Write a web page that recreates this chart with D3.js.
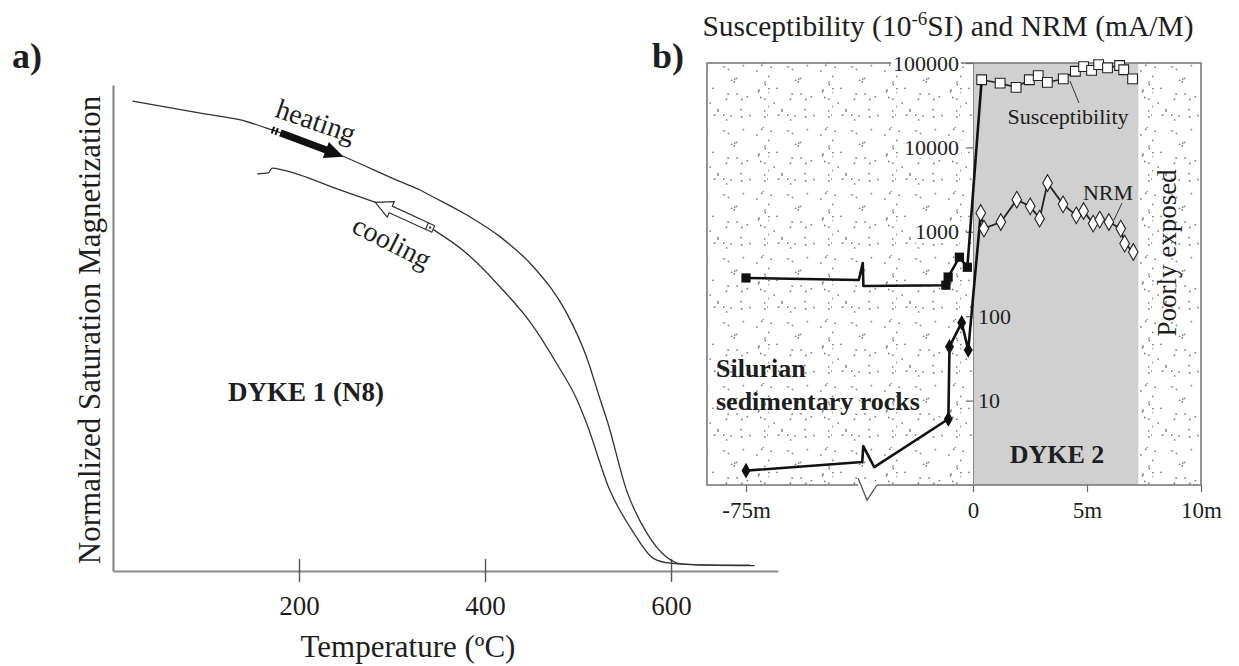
<!DOCTYPE html>
<html><head><meta charset="utf-8">
<script src="https://cdn.jsdelivr.net/npm/d3@7"></script>
<style>
body{margin:0;background:#fff}
svg{display:block}
text{font-family:"Liberation Serif","Times New Roman",serif;fill:#1e1e1e}
</style>
</head><body>
<svg id="c" width="1239" height="666"></svg>
<script>
// ---------- Panel a data: thermomagnetic curves ----------
const heatT = [21, 94, 137, 172, 244, 309, 330, 344, 380, 416, 452, 488, 509, 524, 532, 552, 574, 595, 613, 650, 685];
const heatM = [0.967, 0.942, 0.928, 0.907, 0.856, 0.801, 0.784, 0.770, 0.733, 0.688, 0.626, 0.530, 0.441, 0.352, 0.305, 0.167, 0.078, 0.029, 0.014, 0.012, 0.012];
const coolT = [155, 167, 171, 183, 244, 280, 309, 344, 380, 416, 452, 477, 499, 509, 534, 560, 581, 599, 640, 690];
const coolM = [0.817, 0.819, 0.829, 0.825, 0.784, 0.760, 0.740, 0.703, 0.654, 0.585, 0.503, 0.427, 0.352, 0.305, 0.167, 0.078, 0.026, 0.016, 0.012, 0.011];
const tempTicks = [200, 400, 600];

// ---------- Panel b data: profile across DYKE 2 ----------
const susSedX = [-75, -1.2, -1.1, -0.6, -0.25];
const susSedV = [284, 233, 291, 500, 380];
const susDykeX = [0.38, 1.19, 1.89, 2.47, 2.86, 3.26, 3.96, 4.49, 4.85, 5.20, 5.51, 5.90, 6.43, 6.61, 7.00];
const susDykeV = [63300, 57700, 51500, 63300, 70900, 59000, 64800, 79900, 90600, 81800, 95800, 87600, 93500, 83200, 64800];
const nrmSedX = [-75, -1.09, -1.04, -0.50, -0.21];
const nrmSedV = [1.48, 6.05, 43.5, 83.8, 39.8];
const nrmDykeX = [0.34, 0.48, 1.22, 1.92, 2.51, 2.92, 3.27, 3.95, 4.53, 4.85, 5.27, 5.56, 5.96, 6.48, 6.65, 7.03];
const nrmDykeV = [1668, 1091, 1306, 2404, 2003, 1432, 3782, 2115, 1566, 1762, 1250, 1394, 1306, 1091, 725, 577];
const logTicks = [10, 100, 1000, 10000, 100000];
const distTicks = [-75, 0, 5, 10];
const distLabels = ["-75m", "0", "5m", "10m"];
const dykeWidth = 7.25;
// axis break (left sediment part compressed)
const susBreak = {left: [-5.75, 268], right: [-4.85, 228]};
const nrmBreak = {left: [-4.9, 1.87], right: [-4.37, 1.63]};

const W = 1239, H = 666;
const svg = d3.select('#c');
svg.append('rect').attr('width', W).attr('height', H).attr('fill', '#fff');

// ================= PANEL A =================
const xA = d3.scaleLinear().domain([0, 715]).range([113, 778]);
const yA = d3.scaleLinear().domain([0, 1]).range([571, 85]);
const gA = svg.append('g');

const axB = gA.append('g').attr('transform', `translate(0,${yA(0)})`)
  .call(d3.axisBottom(xA).tickValues(tempTicks).tickSize(11).tickSizeOuter(0).tickPadding(14));
axB.select('.domain').attr('stroke', '#8a8a8a').attr('stroke-width', 2.2);
axB.selectAll('.tick line').attr('y1', -12).attr('stroke', '#555').attr('stroke-width', 1.4);
axB.selectAll('.tick text').attr('font-size', 27).attr('font-family', '"Liberation Serif",serif').attr('fill', '#1e1e1e');

const axL = gA.append('g').attr('transform', `translate(${xA(0)},0)`)
  .call(d3.axisLeft(yA).tickValues([]).tickSizeOuter(0));
axL.select('.domain').attr('stroke', '#8a8a8a').attr('stroke-width', 2.2);

const lineA = d3.line().x(d => xA(d[0])).y(d => yA(d[1])).curve(d3.curveMonotoneX);
gA.append('path').datum(heatT.map((t, i) => [t, heatM[i]])).attr('d', lineA)
  .attr('fill', 'none').attr('stroke', '#333').attr('stroke-width', 1.3);
gA.append('path').datum(coolT.map((t, i) => [t, coolM[i]])).attr('d', lineA)
  .attr('fill', 'none').attr('stroke', '#333').attr('stroke-width', 1.3);

const heatAt = d3.scaleLinear().domain(heatT).range(heatM);
const coolAt = d3.scaleLinear().domain(coolT).range(coolM);
function arrowPts(f, t0, t1, w, h, L) {
  const p0 = [xA(t0), yA(f(t0))], p1 = [xA(t1), yA(f(t1))];
  const dx = p1[0] - p0[0], dy = p1[1] - p0[1], len = Math.hypot(dx, dy);
  const u = [dx / len, dy / len], n = [-u[1], u[0]];
  const b = [p1[0] - u[0] * L, p1[1] - u[1] * L];
  const P = (p, s, k) => [p[0] + n[0] * s * k, p[1] + n[1] * s * k];
  return {pts: [P(p0, w, 1), P(b, w, 1), P(b, h, 1), p1, P(b, h, -1), P(b, w, -1), P(p0, w, -1)], p0, u, n};
}
// heating arrow (filled)
const ha = arrowPts(heatAt, 180, 248, 3.6, 8.5, 19);
gA.append('polygon').attr('points', ha.pts.map(p => p.join(',')).join(' ')).attr('fill', '#111');
[-4, -8].forEach(o => {
  const c = [ha.p0[0] + ha.u[0] * o, ha.p0[1] + ha.u[1] * o];
  gA.append('line').attr('x1', c[0] + ha.n[0] * 3.6).attr('y1', c[1] + ha.n[1] * 3.6)
    .attr('x2', c[0] - ha.n[0] * 3.6).attr('y2', c[1] - ha.n[1] * 3.6)
    .attr('stroke', '#111').attr('stroke-width', 2);
});
// cooling arrow (open)
const ca = arrowPts(coolAt, 338, 282, 3.6, 8.5, 17);
gA.append('polygon').attr('points', ca.pts.map(p => p.join(',')).join(' '))
  .attr('fill', '#fff').attr('stroke', '#333').attr('stroke-width', 1.2);
{
  const c = [ca.p0[0] - ca.u[0] * 3, ca.p0[1] - ca.u[1] * 3];
  gA.append('rect').attr('x', c[0] - 3.5).attr('y', c[1] - 3.5).attr('width', 7).attr('height', 7)
    .attr('fill', '#fff').attr('stroke', '#444').attr('stroke-width', 1.2)
    .attr('transform', `rotate(${Math.atan2(ca.u[1], ca.u[0]) * 180 / Math.PI},${c[0]},${c[1]})`);
  gA.append('circle').attr('cx', c[0]).attr('cy', c[1]).attr('r', 1.2).attr('fill', '#444');
}

gA.append('text').attr('x', 316).attr('y', 121).attr('text-anchor', 'middle').attr('dominant-baseline', 'central')
  .attr('font-size', 28).attr('transform', 'rotate(19,316,121)').text('heating');
gA.append('text').attr('x', 392).attr('y', 242).attr('text-anchor', 'middle').attr('dominant-baseline', 'central')
  .attr('font-size', 28).attr('transform', 'rotate(27,392,242)').text('cooling');
gA.append('text').attr('x', 228).attr('y', 401).attr('font-size', 27).attr('font-weight', 'bold').text('DYKE 1 (N8)');
gA.append('text').attr('x', 408).attr('y', 657).attr('text-anchor', 'middle').attr('font-size', 31).text('Temperature (ºC)');
gA.append('text').attr('transform', 'translate(100,330) rotate(-90)').attr('text-anchor', 'middle')
  .attr('font-size', 31).text('Normalized Saturation Magnetization');
svg.append('text').attr('x', 12).attr('y', 68).attr('font-size', 36).attr('font-weight', 'bold').text('a)');
svg.append('text').attr('x', 652).attr('y', 68).attr('font-size', 36).attr('font-weight', 'bold').text('b)');

// ================= PANEL B =================
const xB = d3.scaleLinear().domain([-80, -75, -5, 0, 10]).range([707, 746, 860, 973, 1201]);
const yB = d3.scaleLog().domain([1, 100000]).range([485, 63]);
const gB = svg.append('g');

const defs = svg.append('defs');
const pat = defs.append('pattern').attr('id', 'stip').attr('patternUnits', 'userSpaceOnUse').attr('width', 64).attr('height', 64);
pat.append('rect').attr('width', 64).attr('height', 64).attr('fill', '#fff');
let seed = 11;
const rnd = () => { seed = (seed * 16807) % 2147483647; return seed / 2147483647; };
for (let i = 0; i < 40; i++) {
  pat.append('circle').attr('cx', rnd() * 64).attr('cy', rnd() * 64).attr('r', 0.9).attr('fill', '#7e7e7e');
}

const fx0 = xB(-80), fx1 = xB(10), fy0 = yB(100000), fy1 = yB(1);
gB.append('rect').attr('x', fx0).attr('y', fy0).attr('width', fx1 - fx0).attr('height', fy1 - fy0).attr('fill', 'url(#stip)');
gB.append('rect').attr('x', xB(0)).attr('y', fy0).attr('width', xB(dykeWidth) - xB(0)).attr('height', fy1 - fy0).attr('fill', '#d0d0d0');
gB.append('rect').attr('x', fx0).attr('y', fy0).attr('width', fx1 - fx0).attr('height', fy1 - fy0)
  .attr('fill', 'none').attr('stroke', '#7a7a7a').attr('stroke-width', 1.6);

// x axis
const axBx = gB.append('g').attr('transform', `translate(0,${fy1})`)
  .call(d3.axisBottom(xB).tickValues(distTicks).tickSize(7).tickPadding(10).tickFormat((d, i) => distLabels[i]));
axBx.select('.domain').remove();
axBx.selectAll('.tick line').attr('stroke', '#666').attr('stroke-width', 1.2);
axBx.selectAll('.tick text').attr('font-size', 23).attr('font-family', '"Liberation Serif",serif').attr('fill', '#1e1e1e');
// axis break symbol
const bxp = xB(-5);
gB.append('rect').attr('x', bxp - 2).attr('y', fy1 - 2).attr('width', 19).attr('height', 4).attr('fill', '#fff');
gB.append('path').attr('d', `M${bxp - 2},${fy1 - 7} L${bxp + 7},${fy1 + 15} L${bxp + 17},${fy1}`)
  .attr('fill', 'none').attr('stroke', '#555').attr('stroke-width', 1.3);

// y axis at 0 m
const axBy = gB.append('g').attr('transform', `translate(${xB(0)},0)`)
  .call(d3.axisLeft(yB).tickValues(logTicks).tickSize(7).tickFormat(''));
axBy.select('.domain').attr('stroke', '#888').attr('stroke-width', 1);
axBy.selectAll('.tick line').attr('stroke', '#666').attr('stroke-width', 1.2);
logTicks.forEach(v => {
  const lbl = String(v);
  if (v >= 1000) {
    const w = lbl.length * 11;
    gB.append('rect').attr('x', xB(0) - 14 - w - 2).attr('y', yB(v) - 11).attr('width', w + 4).attr('height', 22).attr('fill', '#fff');
    gB.append('text').attr('x', xB(0) - 14).attr('y', yB(v)).attr('text-anchor', 'end').attr('dominant-baseline', 'central')
      .attr('font-size', 22).text(lbl);
  } else {
    gB.append('text').attr('x', xB(0) + 5).attr('y', yB(v)).attr('dominant-baseline', 'central')
      .attr('font-size', 22).text(lbl);
  }
});

// series lines
function sedPath(xs, vs, brk, dx0, dy0) {
  const pts = [[xB(xs[0]), yB(vs[0])]];
  const l = [xB(brk.left[0]), yB(brk.left[1])];
  pts.push(l, [l[0] + dx0, l[1] - dy0], [xB(brk.right[0]), yB(brk.right[1])]);
  for (let i = 1; i < xs.length; i++) pts.push([xB(xs[i]), yB(vs[i])]);
  return pts;
}
const lineP = d3.line();
const susSed = sedPath(susSedX, susSedV, susBreak, 4, 17);
susSed.push([xB(susDykeX[0]), yB(susDykeV[0])]);
const nrmSed = sedPath(nrmSedX, nrmSedV, nrmBreak, 1, 16);
nrmSed.push([xB(nrmDykeX[0]), yB(nrmDykeV[0])]);
gB.append('path').attr('d', lineP(susSed)).attr('fill', 'none').attr('stroke', '#111').attr('stroke-width', 2.6).attr('stroke-linejoin', 'round');
gB.append('path').attr('d', lineP(nrmSed)).attr('fill', 'none').attr('stroke', '#111').attr('stroke-width', 2.6).attr('stroke-linejoin', 'round');
gB.append('path').attr('d', lineP(susDykeX.map((x, i) => [xB(x), yB(susDykeV[i])]))).attr('fill', 'none').attr('stroke', '#222').attr('stroke-width', 1.5);
gB.append('path').attr('d', lineP(nrmDykeX.map((x, i) => [xB(x), yB(nrmDykeV[i])]))).attr('fill', 'none').attr('stroke', '#222').attr('stroke-width', 1.8);

// markers
const sq = d3.symbol().type(d3.symbolSquare);
const di = d3.symbol().type(d3.symbolDiamond);
susSedX.forEach((x, i) => gB.append('path').attr('d', sq.size(85)()).attr('transform', `translate(${xB(x)},${yB(susSedV[i])})`).attr('fill', '#111'));
nrmSedX.forEach((x, i) => gB.append('path').attr('d', di.size(70)()).attr('transform', `translate(${xB(x)},${yB(nrmSedV[i])})`).attr('fill', '#111'));
susDykeX.forEach((x, i) => gB.append('path').attr('d', sq.size(95)()).attr('transform', `translate(${xB(x)},${yB(susDykeV[i])})`)
  .attr('fill', '#fff').attr('stroke', '#222').attr('stroke-width', 1.1));
nrmDykeX.forEach((x, i) => gB.append('path').attr('d', di.size(80)()).attr('transform', `translate(${xB(x)},${yB(nrmDykeV[i])})`)
  .attr('fill', '#fff').attr('stroke', '#222').attr('stroke-width', 1.1));

// annotations
gB.append('line').attr('x1', 1070).attr('y1', 81).attr('x2', 1079).attr('y2', 103).attr('stroke', '#333').attr('stroke-width', 1);
gB.append('text').attr('x', 1068).attr('y', 116).attr('text-anchor', 'middle').attr('dominant-baseline', 'central').attr('font-size', 22).text('Susceptibility');
gB.append('line').attr('x1', 1122).attr('y1', 203).attr('x2', 1114).attr('y2', 220).attr('stroke', '#333').attr('stroke-width', 1);
gB.append('text').attr('x', 1108).attr('y', 192).attr('text-anchor', 'middle').attr('dominant-baseline', 'central').attr('font-size', 22).text('NRM');
gB.append('text').attr('transform', 'translate(1176,253) rotate(-90)').attr('text-anchor', 'middle').attr('font-size', 27).text('Poorly exposed');
gB.append('text').attr('x', 1057).attr('y', 463).attr('text-anchor', 'middle').attr('font-size', 26).attr('font-weight', 'bold').text('DYKE 2');
gB.append('text').attr('x', 716).attr('y', 377).attr('font-size', 26).attr('font-weight', 'bold').text('Silurian');
gB.append('text').attr('x', 716).attr('y', 410).attr('font-size', 26).attr('font-weight', 'bold').text('sedimentary rocks');

const title = svg.append('text').attr('x', 948).attr('y', 36).attr('text-anchor', 'middle').attr('font-size', 29.5);
title.append('tspan').text('Susceptibility (10');
title.append('tspan').attr('font-size', 19).attr('dy', -11).text('-6');
title.append('tspan').attr('dy', 11).text('SI) and NRM (mA/M)');
</script>
</body></html>
